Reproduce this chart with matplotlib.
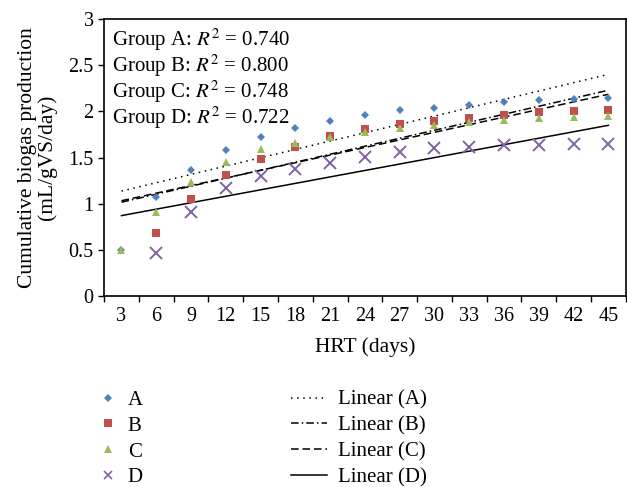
import numpy as np
import matplotlib
matplotlib.use("Agg")
import matplotlib.pyplot as plt
from matplotlib.lines import Line2D

plt.rcParams['font.family'] = ['Liberation Serif', 'DejaVu Serif']
plt.rcParams['mathtext.fontset'] = 'stix'

# data
hrt = [3, 6, 9, 12, 15, 18, 21, 24, 27, 30, 33, 36, 39, 42, 45]
grp_a = [0.50, 1.07, 1.37, 1.58, 1.72, 1.82, 1.90, 1.96, 2.01, 2.04, 2.07, 2.10, 2.12, 2.13, 2.14]
grp_b = [np.nan, 0.68, 1.05, 1.31, 1.48, 1.61, 1.73, 1.81, 1.86, 1.90, 1.93, 1.96, 1.99, 2.00, 2.01]
grp_c = [0.50, 0.91, 1.23, 1.45, 1.59, 1.66, 1.72, 1.78, 1.82, 1.85, 1.89, 1.91, 1.93, 1.94, 1.95]
grp_d = [np.nan, 0.47, 0.91, 1.17, 1.30, 1.38, 1.44, 1.51, 1.56, 1.60, 1.61, 1.64, 1.64, 1.65, 1.65]
r2_text = ['0.740', '0.800', '0.748', '0.722']
names = ['A', 'B', 'C', 'D']

colors = ['#4F81BD', '#C0504D', '#9BBB59', '#8064A2']
markers = ['D', 's', '^', 'x']
msizes = [4, 5.5, 6, 8]
leg_sizes = [4, 5.5, 5.5, 6]
fit_styles = [(0, (1, 3)), (0, (5, 2, 1, 2)), (0, (5, 2.5)), '-']

fig = plt.figure(figsize=(6.27, 4.87), dpi=100)
ax = fig.add_axes([0.166, 0.392, 0.832, 0.569])

idx = np.arange(len(hrt))
series = [grp_a, grp_b, grp_c, grp_d]

# trend lines (least squares on category index, like Excel)
for vals, ls in zip(series, fit_styles):
    y = np.array(vals, dtype=float)
    ok = ~np.isnan(y)
    k, b = np.polyfit(idx[ok] + 1, y[ok], 1)
    ax.plot(idx, k * (idx + 1) + b, color='black', lw=1.1, linestyle=ls, zorder=2)

# points
for vals, c, m, s in zip(series, colors, markers, msizes):
    if m == 'x':
        ax.plot(idx, vals, linestyle='none', marker=m, color=c, markersize=s, mew=1.4, zorder=3)
    else:
        ax.plot(idx, vals, linestyle='none', marker=m, color=c, markersize=s, mew=0, zorder=3)

ax.set_xlim(-0.5, len(hrt) - 0.5)
ax.set_ylim(0, 3)
ax.set_yticks(np.arange(0, 3.01, 0.5))
ax.set_yticklabels(['0', '0.5', '1', '1.5', '2', '2.5', '3'])
ax.set_xticks(np.arange(-0.5, len(hrt), 1))
ax.set_xticklabels([])
ax.set_xticks(idx, minor=True)
ax.set_xticklabels([str(h) for h in hrt], minor=True)
ax.tick_params(axis='x', which='minor', length=0, pad=8)
ax.tick_params(axis='both', which='major', length=4, width=1, direction='out', labelsize=14.5)
ax.tick_params(axis='x', which='minor', labelsize=14.5)
for sp in ax.spines.values():
    sp.set_linewidth(1.2)

ax.set_xlabel('HRT (days)', fontsize=15.5, labelpad=8)
ax.set_ylabel('Cumulative biogas production\n(mL/gVS/day)', fontsize=15.5, labelpad=8, linespacing=1.05)

for i, (n, r) in enumerate(zip(names, r2_text)):
    ax.text(0.016, 0.925 - i * 0.094, 'Group %s: $R^2$ = %s' % (n, r),
            transform=ax.transAxes, fontsize=15, va='center', ha='left')

# legends
pt_handles = [Line2D([], [], linestyle='none', marker=m, color=c, markersize=s,
                     mew=(1.2 if m == 'x' else 0))
              for c, m, s in zip(colors, markers, leg_sizes)]
ln_handles = [Line2D([], [], color='black', lw=1.1, linestyle=ls) for ls in fit_styles]

leg1 = fig.legend(pt_handles, names, loc='upper left', bbox_to_anchor=(0.139, 0.22),
                  frameon=False, fontsize=15, handlelength=1.0, handletextpad=0.45,
                  labelspacing=0.3, borderpad=0)
leg2 = fig.legend(ln_handles, ['Linear (%s)' % n for n in names], loc='upper left',
                  bbox_to_anchor=(0.448, 0.22), frameon=False, fontsize=15,
                  handlelength=1.7, handletextpad=0.55, labelspacing=0.3, borderpad=0)

fig.savefig('out.png', dpi=100)
